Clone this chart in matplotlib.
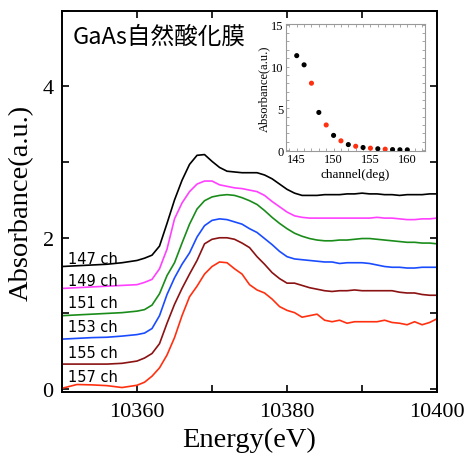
import numpy as np
import matplotlib
matplotlib.use('Agg')
import matplotlib.pyplot as plt
from matplotlib.ticker import MultipleLocator

# energy grid (eV)
energy = [10350, 10352, 10354, 10356, 10358] + list(range(10360, 10401))

# absorbance curves (already offset)
a147 = [1.62, 1.63, 1.64, 1.65, 1.67, 1.70, 1.73, 1.77, 1.89, 2.19, 2.50, 2.76, 2.97, 3.09, 3.10,
        3.01, 2.93, 2.88, 2.87, 2.86, 2.86, 2.86, 2.83, 2.78, 2.71, 2.64, 2.59, 2.56, 2.56, 2.56,
        2.57, 2.57, 2.57, 2.58, 2.58, 2.59, 2.58, 2.58, 2.57, 2.57, 2.56, 2.57, 2.57, 2.57, 2.58, 2.58]
a149 = [1.33, 1.34, 1.35, 1.36, 1.37, 1.38, 1.41, 1.45, 1.59, 1.85, 2.25, 2.46, 2.61, 2.71, 2.75,
        2.75, 2.70, 2.68, 2.66, 2.65, 2.63, 2.61, 2.56, 2.48, 2.41, 2.34, 2.29, 2.27, 2.26, 2.26,
        2.26, 2.26, 2.26, 2.26, 2.26, 2.26, 2.26, 2.27, 2.26, 2.26, 2.25, 2.24, 2.24, 2.25, 2.25, 2.26]
a151 = [0.97, 0.98, 0.99, 1.00, 1.01, 1.03, 1.05, 1.11, 1.26, 1.50, 1.67, 1.93, 2.18, 2.38, 2.49,
        2.54, 2.56, 2.57, 2.56, 2.53, 2.49, 2.44, 2.36, 2.27, 2.19, 2.12, 2.06, 2.02, 1.99, 1.97,
        1.96, 1.96, 1.97, 1.97, 1.98, 1.99, 1.99, 1.98, 1.97, 1.96, 1.95, 1.94, 1.94, 1.93, 1.93, 1.92]
a153 = [0.66, 0.67, 0.68, 0.685, 0.70, 0.72, 0.74, 0.80, 0.97, 1.25, 1.47, 1.65, 1.80, 2.01, 2.16,
        2.23, 2.25, 2.24, 2.21, 2.18, 2.12, 2.07, 1.99, 1.91, 1.82, 1.75, 1.72, 1.71, 1.70, 1.69,
        1.68, 1.68, 1.66, 1.67, 1.67, 1.67, 1.66, 1.64, 1.62, 1.61, 1.61, 1.60, 1.60, 1.61, 1.61, 1.61]
a155 = [0.33, 0.33, 0.33, 0.33, 0.34, 0.37, 0.41, 0.47, 0.60, 0.87, 1.12, 1.33, 1.52, 1.70, 1.92,
        1.98, 2.00, 2.00, 1.98, 1.93, 1.87, 1.75, 1.65, 1.54, 1.46, 1.40, 1.40, 1.37, 1.34, 1.32,
        1.30, 1.29, 1.30, 1.30, 1.31, 1.30, 1.30, 1.30, 1.30, 1.30, 1.28, 1.27, 1.27, 1.25, 1.24, 1.24]
a157 = [0.01, 0.06, 0.055, 0.045, 0.02, 0.05, 0.09, 0.17, 0.28, 0.45, 0.68, 0.97, 1.22, 1.36, 1.52,
        1.62, 1.68, 1.67, 1.59, 1.52, 1.38, 1.31, 1.27, 1.19, 1.09, 1.04, 1.01, 0.95, 0.97, 0.99,
        0.91, 0.89, 0.91, 0.87, 0.89, 0.89, 0.89, 0.89, 0.91, 0.88, 0.87, 0.85, 0.89, 0.85, 0.88, 0.93]

curves = [a147, a149, a151, a153, a155, a157]
labels = ['147 ch', '149 ch', '151 ch', '153 ch', '155 ch', '157 ch']
label_y = [1.73, 1.43, 1.14, 0.83, 0.48, 0.16]
colors = ['black', '#ff40ff', '#1a8c1a', '#1a4cff', '#8b1212', '#ff3010']

# inset: absorbance vs channel
channel = list(range(145, 161))
inset_abs = [11.3, 10.2, 8.0, 4.5, 3.0, 1.75, 1.1, 0.65, 0.45, 0.3, 0.22, 0.15, 0.1, 0.05, 0.03, 0.02]
inset_col = ['black' if c % 2 == 0 or c < 147 or c > 157 else '#ff3010' for c in channel]

serif = ['Liberation Serif', 'DejaVu Serif']

fig = plt.figure(figsize=(4.66, 4.56), dpi=100)
ax = fig.add_axes([0.133, 0.138, 0.805, 0.836])

for y, c in zip(curves, colors):
    ax.plot(energy, y, color=c, lw=1.2)
for lab, ly in zip(labels, label_y):
    ax.text(10350.8, ly, lab, fontsize=10.5, family='DejaVu Sans', va='center', ha='left')

ax.text(10351.4, 4.66, 'GaAs自然酸化膜', fontsize=17,
        family=['Noto Sans CJK JP', 'DejaVu Sans'], va='center', ha='left')

ax.set_xlim(10350, 10400)
ax.set_ylim(-0.04, 5.0)
ax.xaxis.set_minor_locator(MultipleLocator(10))
ax.yaxis.set_major_locator(MultipleLocator(2))
ax.yaxis.set_minor_locator(MultipleLocator(1))
ax.set_xticks([10360, 10380, 10400])
ax.tick_params(which='both', direction='in', top=True, right=True, length=5, width=1.2)
ax.tick_params(axis='x', labelsize=16, pad=7)
ax.tick_params(axis='y', labelsize=16, pad=6)
for lab in ax.get_xticklabels() + ax.get_yticklabels():
    lab.set_family(serif)
for s in ax.spines.values():
    s.set_linewidth(1.4)
ax.set_xlabel('Energy(eV)', fontsize=20.5, family=serif, labelpad=4)
ax.set_ylabel('Absorbance(a.u.)', fontsize=20.5, family=serif, labelpad=6)

ins = fig.add_axes([0.613, 0.667, 0.299, 0.278])
ins.scatter(channel, inset_abs, c=inset_col, s=7, zorder=3)
ins.set_xlim(143.5, 162.4)
ins.set_ylim(-0.1, 15.08)
ins.xaxis.set_major_locator(MultipleLocator(5))
ins.yaxis.set_major_locator(MultipleLocator(5))
ins.xaxis.set_minor_locator(MultipleLocator(1))
ins.yaxis.set_minor_locator(MultipleLocator(1))
ins.tick_params(which='both', direction='in', top=True, right=True, length=2,
                width=0.6, color='#999999', labelsize=9, pad=1.5)
for lab in ins.get_xticklabels() + ins.get_yticklabels():
    lab.set_family(serif)
for s in ins.spines.values():
    s.set_color('#999999')
    s.set_linewidth(0.8)
ins.set_xlabel('channel(deg)', fontsize=9.5, family=serif, labelpad=2)
ins.set_ylabel('Absorbance(a.u.)', fontsize=9, family=serif, labelpad=1)

fig.savefig('out.png', dpi=100)
